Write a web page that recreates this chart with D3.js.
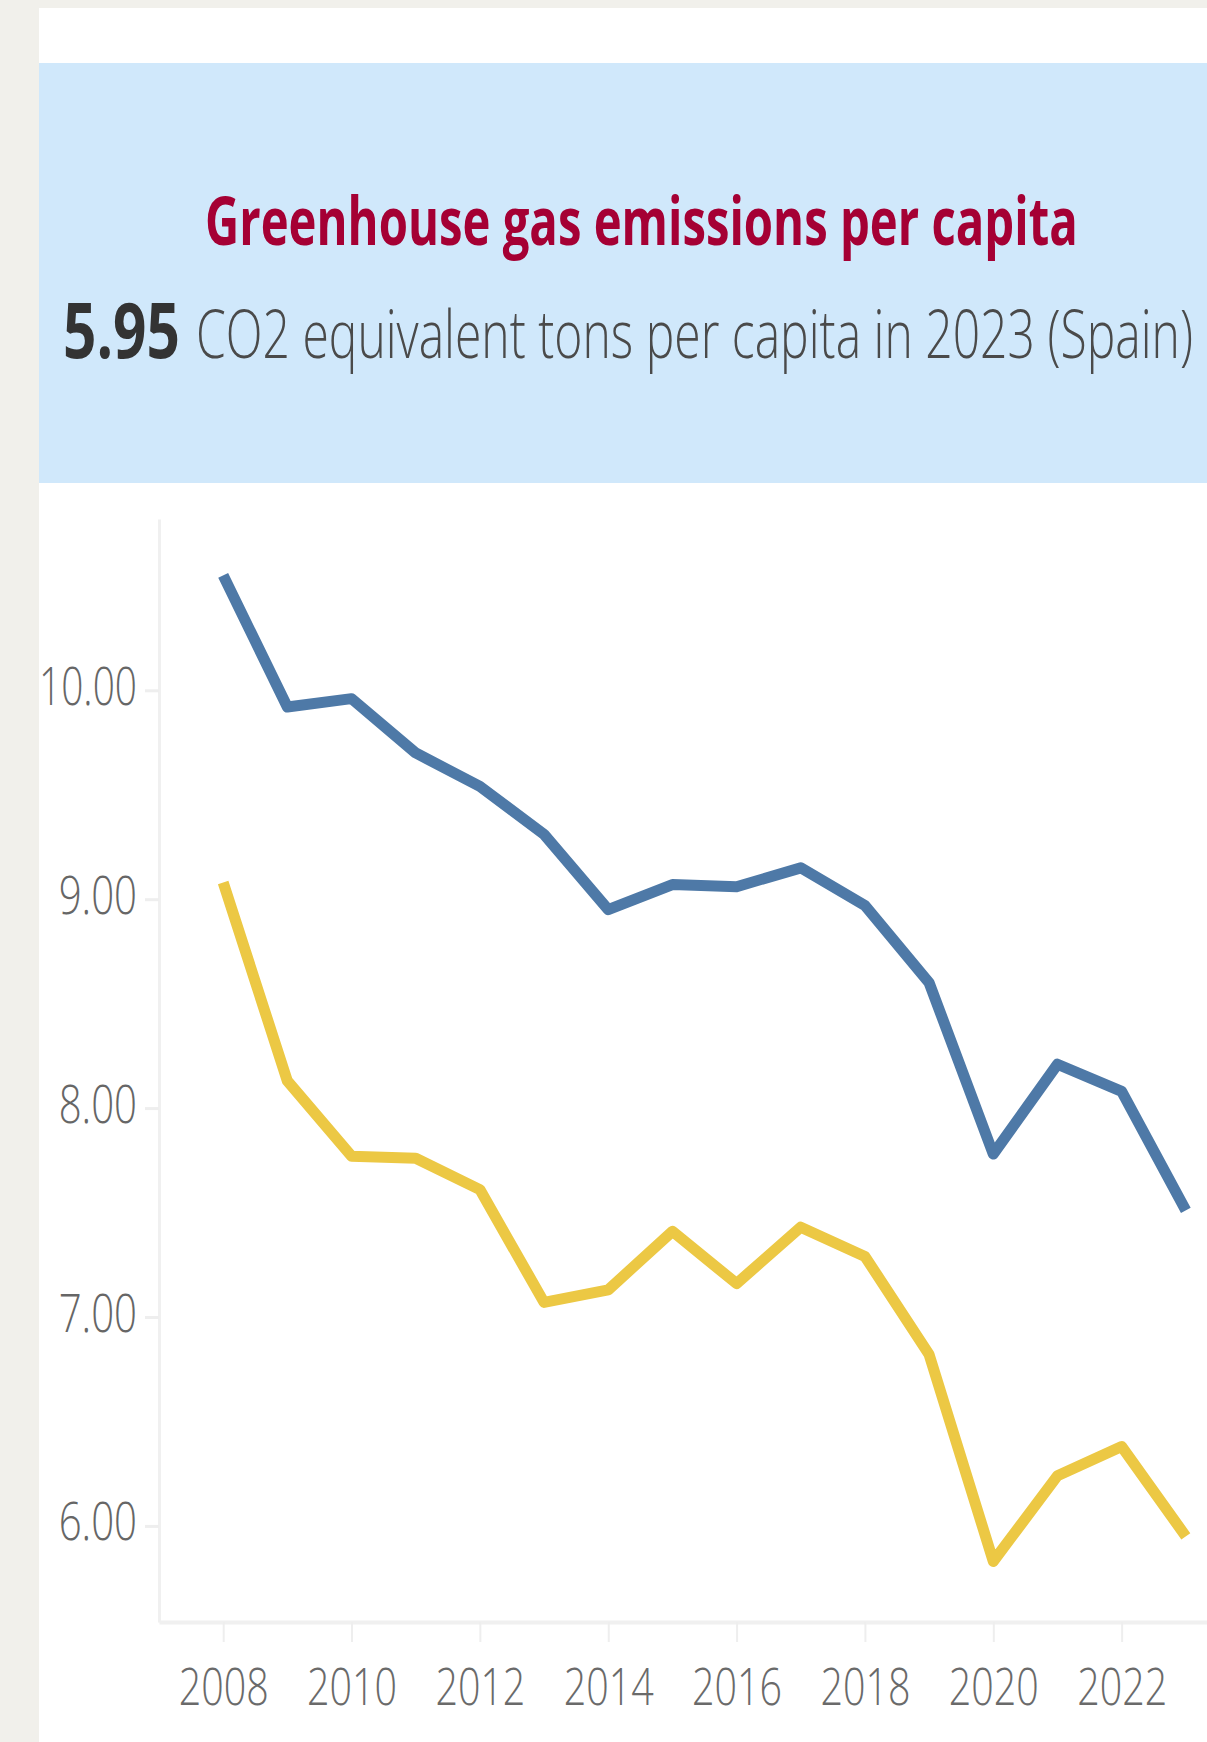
<!DOCTYPE html>
<html>
<head>
<meta charset="utf-8">
<script src="https://cdn.jsdelivr.net/npm/d3@7"></script>
<style>
  html, body { margin: 0; padding: 0; background: #f1f0eb; }
  svg { display: block; }
</style>
</head>
<body>
<svg id="chart" width="1207" height="1742"></svg>
<script>
// ---- data ----
const years = [2008, 2009, 2010, 2011, 2012, 2013, 2014, 2015, 2016, 2017, 2018, 2019, 2020, 2021, 2022, 2023];
const referenceSeries = [10.55, 9.92, 9.96, 9.70, 9.54, 9.31, 8.95, 9.07, 9.06, 9.15, 8.97, 8.60, 7.78, 8.21, 8.08, 7.51];
const spainSeries = [9.08, 8.13, 7.77, 7.76, 7.61, 7.07, 7.13, 7.41, 7.16, 7.43, 7.29, 6.82, 5.83, 6.24, 6.38, 5.95];
const yTickValues = [6, 7, 8, 9, 10];
const xTickValues = [2008, 2010, 2012, 2014, 2016, 2018, 2020, 2022];
const titleText = "Greenhouse gas emissions per capita";
const kpiValue = "5.95";
const kpiText = "CO2 equivalent tons per capita in 2023 (Spain)";

const svg = d3.select("#chart");
const W = 1207, H = 1742;
const FONT = "'Open Sans', 'Noto Sans', sans-serif";

// squeeze a text node horizontally to a target width (condensed look)
function fitWidth(node, tx, ty, width) {
  const natural = node.getComputedTextLength();
  const s = natural > 0 ? width / natural : 1;
  d3.select(node).attr("x", 0).attr("y", 0)
    .attr("transform", `translate(${tx},${ty}) scale(${s},1)`);
}

// background panels
svg.append("rect").attr("x", 0).attr("y", 0).attr("width", W).attr("height", H).attr("fill", "#f1f0eb");
svg.append("rect").attr("x", 39).attr("y", 8).attr("width", W - 39).attr("height", H - 8).attr("fill", "#ffffff");
svg.append("rect").attr("x", 39).attr("y", 63).attr("width", W - 39).attr("height", 420).attr("fill", "#d0e8fb");

// title
const title = svg.append("text")
  .attr("font-family", FONT)
  .attr("font-weight", 700)
  .attr("font-size", 66)
  .attr("fill", "#a50034")
  .text(titleText);
fitWidth(title.node(), 205, 245, 873);

// KPI line
const kpiV = svg.append("text")
  .attr("font-family", FONT)
  .attr("font-weight", 700)
  .attr("font-size", 77)
  .attr("fill", "#333333")
  .text(kpiValue);
fitWidth(kpiV.node(), 63, 358, 117);
const kpiT = svg.append("text")
  .attr("font-family", FONT)
  .attr("font-weight", 300)
  .attr("font-size", 66)
  .attr("fill", "#4a4a4a")
  .text(kpiText);
fitWidth(kpiT.node(), 196, 358, 997);

// scales
const x = d3.scaleLinear().domain([2007, 2023.33]).range([159, 1207]);
const y = d3.scaleLinear().domain([5.54, 10.82]).range([1622, 519]);

// y axis
const yAxis = svg.append("g")
  .attr("transform", "translate(159,0)")
  .call(d3.axisLeft(y).tickValues(yTickValues).tickFormat(d3.format(".2f")).tickSize(14).tickSizeOuter(0).tickPadding(8));
yAxis.select(".domain").attr("stroke", "#f0f0f0").attr("stroke-width", 3);
yAxis.selectAll(".tick line").attr("stroke", "#eeeeee").attr("stroke-width", 3);
yAxis.selectAll(".tick text")
  .attr("font-family", FONT)
  .attr("font-weight", 300)
  .attr("font-size", 53)
  .attr("fill", "#666666")
  .attr("dy", null)
  .attr("text-anchor", "end")
  .each(function() { fitWidth(this, -22, 14, this.textContent.length * 19.6); });

// x axis
const xAxis = svg.append("g")
  .attr("transform", "translate(0,1622)")
  .call(d3.axisBottom(x).tickValues(xTickValues).tickFormat(d3.format("d")).tickSize(20).tickSizeOuter(0));
xAxis.select(".domain").attr("stroke", "#f0f0f0").attr("stroke-width", 4);
xAxis.selectAll(".tick line").attr("stroke", "#eeeeee").attr("stroke-width", 2);
xAxis.selectAll(".tick text")
  .attr("font-family", FONT)
  .attr("font-weight", 300)
  .attr("font-size", 52)
  .attr("fill", "#6a6a6a")
  .attr("dy", null)
  .attr("text-anchor", "middle")
  .each(function() { fitWidth(this, 0, 83, 90); });

// lines
const line = d3.line().x(d => x(d.year)).y(d => y(d.value));
const seriesList = [
  { name: "reference", color: "#4e79a7", values: referenceSeries },
  { name: "Spain", color: "#ecc844", values: spainSeries }
];
svg.append("g").selectAll("path")
  .data(seriesList)
  .join("path")
  .attr("fill", "none")
  .attr("stroke", d => d.color)
  .attr("stroke-width", 11)
  .attr("stroke-linejoin", "round")
  .attr("d", d => line(years.map((yr, i) => ({ year: yr, value: d.values[i] }))));
</script>
</body>
</html>
